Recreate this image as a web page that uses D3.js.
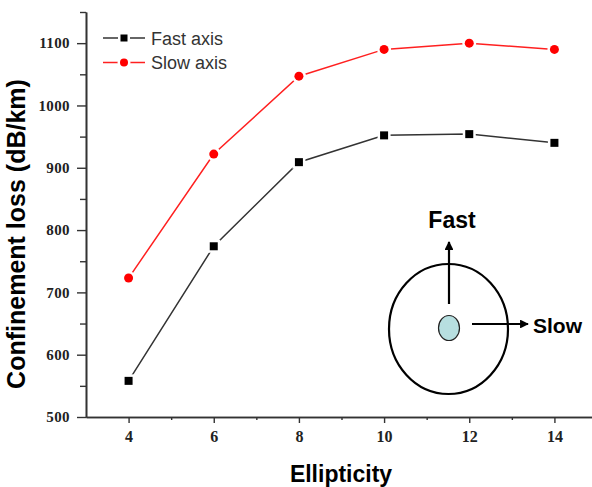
<!DOCTYPE html>
<html>
<head>
<meta charset="utf-8">
<script src="https://cdn.jsdelivr.net/npm/d3@7"></script>
<style>
	body { margin: 0; background: #fff; }
	svg { display: block; }
	.tick-label { font-family: "Liberation Serif", "Times New Roman", serif; font-weight: bold; fill: #222; }
	.title { font-family: "Liberation Sans", Arial, sans-serif; font-weight: bold; fill: #000; }
	.legend-text { font-family: "Liberation Sans", Arial, sans-serif; fill: #333; }
</style>
</head>
<body>
<div class="box"></div>
<script>
// ellipticity values
var ellipticity = [4, 6, 8, 10, 12, 14];

// confinement loss (dB/km)
var fastAxis = [558, 774, 909, 952, 954, 940];
var slowAxis = [723, 922, 1047, 1090, 1100, 1090];

var xTicks = [4, 6, 8, 10, 12, 14];
var xMinor = [5, 7, 9, 11, 13, 15];
var yTicks = [500, 600, 700, 800, 900, 1000, 1100];
var yMinor = [550, 650, 750, 850, 950, 1050, 1150];

var series = [
	{name: 'Fast axis', values: fastAxis, color: '#000', line: '#333', marker: 'square'},
	{name: 'Slow axis', values: slowAxis, color: '#ff0000', line: '#ff2020', marker: 'circle'}
];

var width = 592, height = 487;

var svg = d3.select('.box')
	.append('svg')
	.attr('width', width)
	.attr('height', height);

var x = d3.scaleLinear().domain([3, 15]).range([86, 597]);
var y = d3.scaleLinear().domain([500, 1150]).range([417, 12]);

// axes
var axisColor = '#333';

function styleAxis(g) {
	g.select('.domain').attr('stroke', axisColor).attr('stroke-width', 1.6);
	g.selectAll('.tick line').attr('stroke', axisColor).attr('stroke-width', 1.4);
}

svg.append('g')
	.attr('transform', 'translate(0,' + y(500) + ')')
	.call(d3.axisBottom(x).tickValues(xMinor).tickSize(3).tickFormat('').tickSizeOuter(0))
	.call(styleAxis);

var xAxis = svg.append('g')
	.attr('transform', 'translate(0,' + y(500) + ')')
	.call(d3.axisBottom(x).tickValues(xTicks).tickSize(6).tickPadding(6).tickSizeOuter(0).tickFormat(d3.format('d')))
	.call(styleAxis);
xAxis.selectAll('.tick text')
	.attr('class', 'tick-label')
	.attr('font-size', 16)
	.attr('dy', '0.8em');
xAxis.attr('font-family', null).attr('font-size', null);

svg.append('g')
	.attr('transform', 'translate(' + x(3) + ',0)')
	.call(d3.axisLeft(y).tickValues(yMinor).tickSize(6).tickFormat('').tickSizeOuter(0))
	.call(styleAxis);

var yAxis = svg.append('g')
	.attr('transform', 'translate(' + x(3) + ',0)')
	.call(d3.axisLeft(y).tickValues(yTicks).tickSize(9).tickPadding(7).tickSizeOuter(0).tickFormat(d3.format('d')))
	.call(styleAxis);
yAxis.selectAll('.tick text')
	.attr('class', 'tick-label')
	.attr('font-size', 15)
	.attr('letter-spacing', 0.4);
yAxis.attr('font-family', null).attr('font-size', null);

// titles
svg.append('text')
	.attr('class', 'title')
	.attr('transform', 'translate(25,' + 234 + ') rotate(-90)')
	.attr('text-anchor', 'middle')
	.attr('font-size', 25)
	.text('Confinement loss (dB/km)');

svg.append('text')
	.attr('class', 'title')
	.attr('x', 341)
	.attr('y', 482)
	.attr('text-anchor', 'middle')
	.attr('font-size', 23)
	.text('Ellipticity');

// series lines and markers
var line = d3.line()
	.x(function(d) { return x(d.x); })
	.y(function(d) { return y(d.y); });

function drawMarker(g, type, color, cx, cy, size) {
	if (type === 'square') {
		g.append('rect')
			.attr('x', cx - size / 2)
			.attr('y', cy - size / 2)
			.attr('width', size)
			.attr('height', size)
			.attr('fill', color)
			.attr('stroke', '#fff')
			.attr('stroke-width', 5)
			.attr('paint-order', 'stroke');
	} else {
		g.append('circle')
			.attr('cx', cx)
			.attr('cy', cy)
			.attr('r', size / 2 + 0.5)
			.attr('fill', color)
			.attr('stroke', '#fff')
			.attr('stroke-width', 5)
			.attr('paint-order', 'stroke');
	}
}

series.forEach(function(s) {
	var pts = ellipticity.map(function(e, i) { return {x: e, y: s.values[i]}; });

	svg.append('path')
		.datum(pts)
		.attr('d', line)
		.attr('fill', 'none')
		.attr('stroke', s.line)
		.attr('stroke-width', 1.5);

	var g = svg.append('g');
	pts.forEach(function(p) {
		drawMarker(g, s.marker, s.color, x(p.x), y(p.y), 8);
	});
});

// legend
var legend = svg.append('g');
series.forEach(function(s, i) {
	var ly = 38 + i * 24.5;
	legend.append('line')
		.attr('x1', 103)
		.attr('x2', 145)
		.attr('y1', ly)
		.attr('y2', ly)
		.attr('stroke', s.line)
		.attr('stroke-width', 1.5);
	drawMarker(legend, s.marker, s.color, 124, ly, 7);
	legend.append('text')
		.attr('class', 'legend-text')
		.attr('x', 151)
		.attr('y', ly + 6.5)
		.attr('font-size', 18)
		.text(s.name);
});

// fiber cross-section inset
var inset = svg.append('g');

svg.append('defs').append('marker')
	.attr('id', 'arrow')
	.attr('viewBox', '0 0 10 10')
	.attr('refX', 9)
	.attr('refY', 5)
	.attr('markerWidth', 4)
	.attr('markerHeight', 4)
	.attr('orient', 'auto')
	.append('path')
		.attr('d', 'M0,0 L10,5 L0,10 Z')
		.attr('fill', '#000');

inset.append('ellipse')
	.attr('cx', 448.5)
	.attr('cy', 329)
	.attr('rx', 59.5)
	.attr('ry', 65)
	.attr('fill', 'none')
	.attr('stroke', '#000')
	.attr('stroke-width', 2.2);

inset.append('ellipse')
	.attr('cx', 449)
	.attr('cy', 328)
	.attr('rx', 10.5)
	.attr('ry', 12.5)
	.attr('fill', '#b7dfe0')
	.attr('stroke', '#222')
	.attr('stroke-width', 1.2);

inset.append('line')
	.attr('x1', 449).attr('y1', 304)
	.attr('x2', 449).attr('y2', 242)
	.attr('stroke', '#000')
	.attr('stroke-width', 2.2)
	.attr('marker-end', 'url(#arrow)');

inset.append('line')
	.attr('x1', 472).attr('y1', 324)
	.attr('x2', 528).attr('y2', 324)
	.attr('stroke', '#000')
	.attr('stroke-width', 2.2)
	.attr('marker-end', 'url(#arrow)');

inset.append('text')
	.attr('class', 'title')
	.attr('x', 452)
	.attr('y', 228)
	.attr('text-anchor', 'middle')
	.attr('font-size', 23)
	.text('Fast');

inset.append('text')
	.attr('class', 'title')
	.attr('x', 533)
	.attr('y', 333)
	.attr('font-size', 21)
	.text('Slow');
</script>
</body>
</html>
